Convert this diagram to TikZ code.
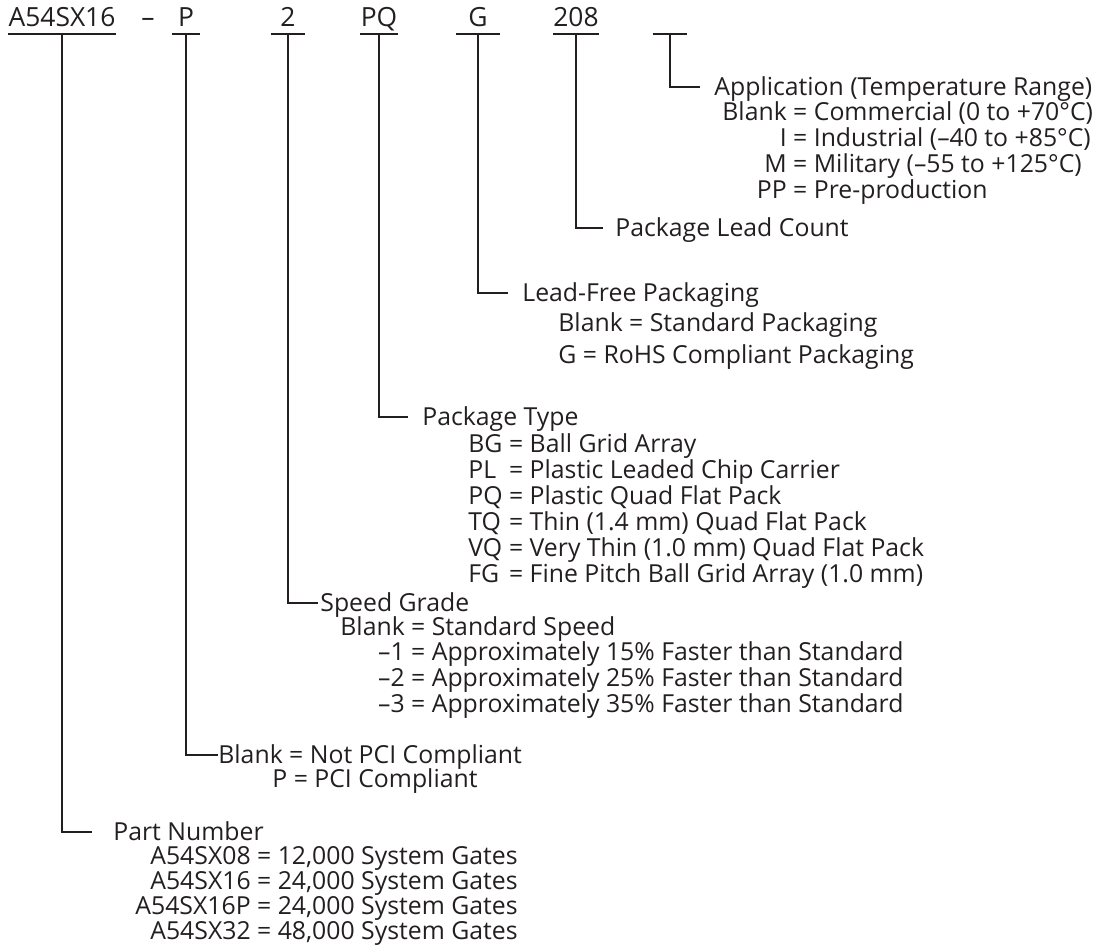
\documentclass[tikz,border=0pt]{standalone}
\usepackage{fontspec}
\setmainfont{Open Sans}
\usetikzlibrary{positioning}
\definecolor{ink}{HTML}{231F20}
\newcommand{\bodyfont}{\fontsize{12.4}{11.8}\selectfont}
\tikzstyle{field} = [inner sep=0pt, minimum height=17pt, text height=9.4pt, text depth=0pt, text=ink, font=\fontsize{13.2}{14}\selectfont]
\tikzstyle{heading} = [anchor=west, inner sep=0pt, text height=8.8pt, text depth=0pt, text=ink, font=\bodyfont]
\tikzstyle{codes} = [anchor=base west, inner sep=0pt, text=ink, font=\bodyfont]
\tikzstyle{leader} = [draw=ink, line width=1pt]

\begin{document}
\begin{tikzpicture}[x=0.5pt, y=-0.5pt]
	\useasboundingbox (0,0) rectangle (1117,945);
	% ordering code fields
	\node[field, minimum width=53pt] (fPart) at (62,17) {A54SX16};
	\node[field] (fDash) at (148,17) {–};
	\node[field, minimum width=14pt] (fPci) at (186,17) {P};
	\node[field, minimum width=17pt] (fSpeed) at (288,17) {2};
	\node[field, minimum width=17pt] (fPkg) at (379,17) {PQ};
	\node[field, minimum width=21.5pt] (fLead) at (478,17) {G};
	\node[field, minimum width=17pt] (fCount) at (576,17) {208};
	\node[field, minimum width=17pt] (fApp) at (670,17) {};
	\foreach \f in {fPart,fPci,fSpeed,fPkg,fLead,fCount,fApp}
		\draw[leader] (\f.south west) -- (\f.south east);

	% application
	\node[heading] (appHead) at (714,87) {Application (Temperature Range)};
	\node[codes] (appList) at (722,121) {%
		\begin{tabular}[t]{@{}r@{ = }l@{}}
			Blank & Commercial (0 to +70°C)\\
			I & Industrial (–40 to +85°C)\\
			M & Military (–55 to +125°C)\\
			PP & Pre-production
		\end{tabular}};

	% lead count
	\node[heading] (countHead) at (615,228) {Package Lead Count};

	% lead free
	\node[heading] (leadHead) at (522,293) {Lead-Free Packaging};
	\node[codes, font=\fontsize{12.4}{16}\selectfont] (leadList) at (558,332) {%
		\begin{tabular}[t]{@{}l@{}}
			Blank = Standard Packaging\\
			G = RoHS Compliant Packaging
		\end{tabular}};

	% package type
	\node[heading] (pkgHead) at (422,417) {Package Type};
	\node[codes] (pkgList) at (468,453) {%
		\begin{tabular}[t]{@{}l@{ = }l@{}}
			BG & Ball Grid Array\\
			PL & Plastic Leaded Chip Carrier\\
			PQ & Plastic Quad Flat Pack\\
			TQ & Thin (1.4 mm) Quad Flat Pack\\
			VQ & Very Thin (1.0 mm) Quad Flat Pack\\
			FG & Fine Pitch Ball Grid Array (1.0 mm)
		\end{tabular}};

	% speed grade
	\node[heading] (speedHead) at (320,603) {Speed Grade};
	\node[codes] (speedList) at (340,635) {%
		\begin{tabular}[t]{@{}r@{ = }l@{}}
			Blank\ & Standard Speed\\
			–1 & Approximately 15\% Faster than Standard\\
			–2 & Approximately 25\% Faster than Standard\\
			–3 & Approximately 35\% Faster than Standard
		\end{tabular}};

	% pci
	\node[heading] (pciHead) at (218,755) {Blank = Not PCI Compliant};
	\node[codes] (pciList) at (272,787) {P = PCI Compliant};

	% part number
	\node[heading] (partHead) at (113,832) {Part Number};
	\node[codes] (partList) at (135,864) {%
		\begin{tabular}[t]{@{}r@{ = }l@{}}
			A54SX08 & 12,000 System Gates\\
			A54SX16 & 24,000 System Gates\\
			A54SX16P & 24,000 System Gates\\
			A54SX32 & 48,000 System Gates
		\end{tabular}};

	% leaders
	\draw[leader] (fApp.south) |- ([xshift=-7pt]appHead.west);
	\draw[leader] (fCount.south) |- ([xshift=-6pt]countHead.west);
	\draw[leader] (fLead.south) |- ([xshift=-7pt]leadHead.west);
	\draw[leader] (fPkg.south) |- ([xshift=-7pt]pkgHead.west);
	\draw[leader] (fSpeed.south) |- ([xshift=-1pt]speedHead.west);
	\draw[leader] (fPci.south) |- (pciHead.west);
	\draw[leader] (fPart.south) |- ([xshift=-10.5pt]partHead.west);
\end{tikzpicture}
\end{document}
